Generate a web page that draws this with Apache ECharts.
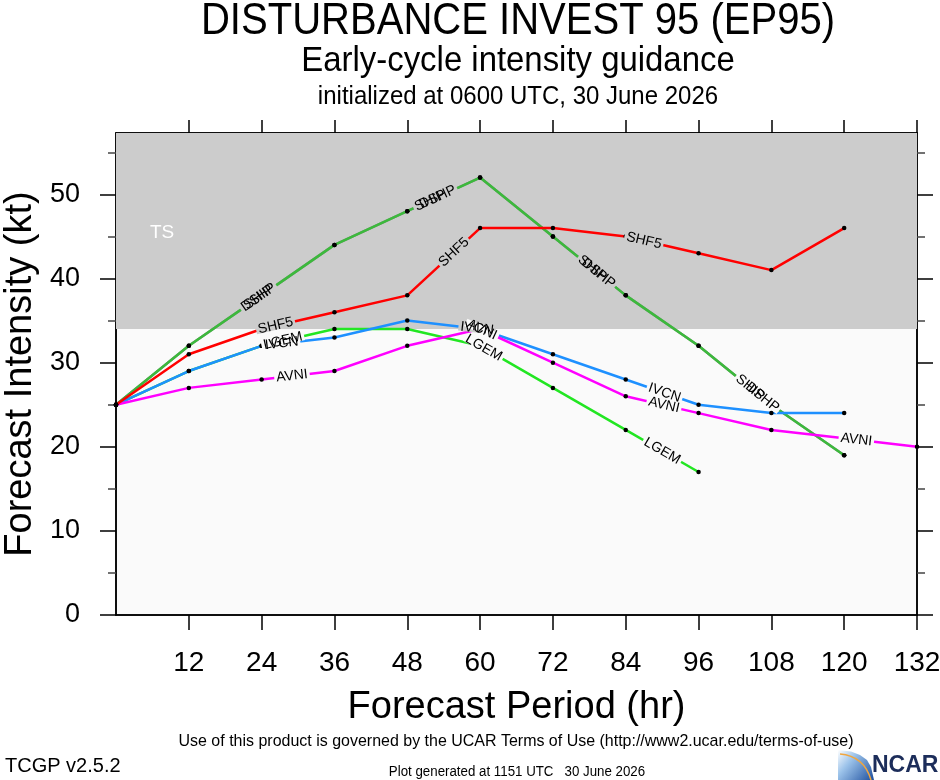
<!DOCTYPE html>
<html>
<head>
<meta charset="utf-8">
<script src="https://cdn.jsdelivr.net/npm/echarts@6/dist/echarts.min.js"></script>
<style>
html, body { margin: 0; padding: 0; background: #fff; }
#chart { width: 940px; height: 780px; }
</style>
</head>
<body>
<div id="chart"></div>
<script>
// forecast hours and axis ticks
const hours = [0, 12, 24, 36, 48, 60, 72, 84, 96, 108, 120, 132];
const hourTicks = [12, 24, 36, 48, 60, 72, 84, 96, 108, 120, 132];
const ktTicks = [0, 10, 20, 30, 40, 50];
const ktMinorTicks = [5, 15, 25, 35, 45, 55];
const ktTop = 57.3;
const tsThreshold = 34;

// intensity guidance (kt), null = no forecast
const shipKt = [25, 32, 38, 44, 48, 52, 45, 38, 32, 25, 19, null];
const dshpKt = [25, 32, 38, 44, 48, 52, 45, 38, 32, 25, 19, null];
const lgemKt = [25, 29, 32, 34, 34, 32, 27, 22, 17, null, null, null];
const ivcnKt = [25, 29, 32, 33, 35, 34, 31, 28, 25, 24, 24, null];
const avniKt = [25, 27, 28, 29, 32, 34, 30, 26, 24, 22, 21, 20];
const shf5Kt = [25, 31, 34, 36, 38, 46, 46, 45, 43, 41, 46, null];

const modelNames = ['SHIP', 'DSHP', 'LGEM', 'IVCN', 'AVNI', 'SHF5'];
const modelColors = ['#8a8a8a', '#3cb93c', '#22e622', '#1e90ff', '#ff00ff', '#ff0000'];
const modelKt = [shipKt, dshpKt, lgemKt, ivcnKt, avniKt, shf5Kt];
// where along each line the name is written (forecast hour)
const labelHours = [
    [23.5, 51.8, 78.5, 104.5],
    [23.5, 53, 79.5, 106.5],
    [27.5, 60.6, 90],
    [27.3, 59.5, 90.4],
    [29, 60.3, 90.3, 122],
    [26.3, 55.7, 87]
];

const FONT = "'Liberation Sans', Arial, Helvetica, sans-serif";
const LABEL_FONT = '14px ' + FONT;

let myChart = echarts.init(document.getElementById('chart'));

let series = modelNames.map(function (name, i) {
    let s = {
        name: name,
        type: 'line',
        data: hours.map(function (h, j) { return [h, modelKt[i][j]]; }),
        symbol: 'circle',
        symbolSize: 4.5,
        showSymbol: true,
        itemStyle: { color: '#000' },
        lineStyle: { color: modelColors[i], width: 2.5 },
        connectNulls: false,
        silent: true,
        z: 3
    };
    if (i == 0) {
        s.markArea = {
            silent: true,
            z: 1,
            itemStyle: { color: '#cccccc' },
            label: {
                show: true,
                position: [34, 90],
                color: '#fff',
                fontSize: 19,
                fontFamily: FONT
            },
            data: [[{ name: 'TS', yAxis: tsThreshold }, { yAxis: ktTop }]]
        };
    }
    return s;
});

function yAxisCfg(pos, ticks, len, showLine, labels) {
    return {
        type: 'value',
        position: pos,
        min: 0,
        max: ktTop,
        interval: 10,
        splitLine: { show: false },
        axisLine: { show: showLine, onZero: false, lineStyle: { color: '#000', width: 1.5 } },
        axisTick: { show: true, customValues: ticks, length: len, lineStyle: { color: len > 10 ? '#000' : '#444', width: 1.5 } },
        axisLabel: labels ? {
            show: true,
            customValues: ktTicks,
            fontSize: 27,
            color: '#000',
            margin: 36,
            fontFamily: FONT
        } : { show: false }
    };
}

let option = {
    animation: false,
    backgroundColor: '#fff',
    grid: {
        left: 116,
        right: 23,
        top: 133,
        bottom: 165,
        outerBoundsMode: 'none',
        containLabel: false,
        show: true,
        backgroundColor: '#fafafa',
        borderColor: '#000',
        borderWidth: 1.5
    },
    xAxis: [{
        type: 'value',
        position: 'bottom',
        min: 0,
        max: 132,
        interval: 12,
        splitLine: { show: false },
        axisLine: { show: true, onZero: false, lineStyle: { color: '#000', width: 1.5 } },
        axisTick: { show: true, customValues: hourTicks, length: 15, lineStyle: { color: '#000', width: 1.5 } },
        axisLabel: { show: true, customValues: hourTicks, fontSize: 28, color: '#000', margin: 34, fontFamily: FONT },
        name: 'Forecast Period (hr)',
        nameLocation: 'middle',
        nameGap: 74,
        nameTextStyle: { fontSize: 38, color: '#000', fontFamily: FONT }
    }, {
        type: 'value',
        position: 'top',
        min: 0,
        max: 132,
        interval: 12,
        splitLine: { show: false },
        axisLine: { show: true, onZero: false, lineStyle: { color: '#000', width: 1.5 } },
        axisTick: { show: true, customValues: hourTicks, length: 13, lineStyle: { color: '#000', width: 1.5 } },
        axisLabel: { show: false }
    }],
    yAxis: [
        Object.assign(yAxisCfg('left', ktTicks, 16, true, true), {
            name: 'Forecast Intensity (kt)',
            nameLocation: 'middle',
            nameGap: 64,
            nameTextStyle: { fontSize: 38, color: '#000', fontFamily: FONT }
        }),
        yAxisCfg('left', ktMinorTicks, 8, false, false),
        yAxisCfg('right', ktTicks, 16, true, false),
        yAxisCfg('right', ktMinorTicks, 8, false, false)
    ],
    series: series
};

myChart.setOption(option);

// line names written along the curves, with a gap cut in the line
function ktAt(vals, h) {
    for (let j = 0; j < hours.length - 1; j++) {
        if (h >= hours[j] && h <= hours[j + 1] && vals[j] != null && vals[j + 1] != null) {
            let f = (h - hours[j]) / (hours[j + 1] - hours[j]);
            return { v: vals[j] + f * (vals[j + 1] - vals[j]), j: j };
        }
    }
    return null;
}

let measure = document.createElement('canvas').getContext('2d');
measure.font = LABEL_FONT;

let gaps = [];
let texts = [];
modelNames.forEach(function (name, i) {
    labelHours[i].forEach(function (h) {
        let r = ktAt(modelKt[i], h);
        if (!r) return;
        let p = myChart.convertToPixel({ xAxisIndex: 0, yAxisIndex: 0 }, [h, r.v]);
        let a = myChart.convertToPixel({ xAxisIndex: 0, yAxisIndex: 0 }, [hours[r.j], modelKt[i][r.j]]);
        let b = myChart.convertToPixel({ xAxisIndex: 0, yAxisIndex: 0 }, [hours[r.j + 1], modelKt[i][r.j + 1]]);
        let rot = -Math.atan2(b[1] - a[1], b[0] - a[0]);
        let w = measure.measureText(name).width + 4;
        gaps.push({
            type: 'rect',
            x: p[0], y: p[1], rotation: rot,
            shape: { x: -w / 2, y: -4, width: w, height: 8 },
            style: { fill: r.v >= tsThreshold ? '#cccccc' : '#fafafa' },
            silent: true,
            z: 10
        });
        texts.push({
            type: 'text',
            x: p[0], y: p[1], rotation: rot,
            style: {
                text: name,
                fill: '#000',
                font: LABEL_FONT,
                align: 'center', verticalAlign: 'middle',
                textAlign: 'center', textVerticalAlign: 'middle'
            },
            silent: true,
            z: 11
        });
    });
});

function centered(text, x, y, size, sx) {
    return {
        type: 'text',
        x: x, y: y,
        scaleX: sx || 1,
        style: {
            text: text,
            fill: '#000',
            font: size + 'px ' + FONT,
            align: 'center', verticalAlign: 'middle',
            textAlign: 'center', textVerticalAlign: 'middle'
        },
        silent: true,
        z: 20
    };
}

let notes = [
    centered('DISTURBANCE INVEST 95 (EP95)', 518, 22, 44, 0.91),
    centered('Early-cycle intensity guidance', 518, 61, 35, 0.94),
    centered('initialized at 0600 UTC, 30 June 2026', 518, 97, 25, 0.96),
    centered('Use of this product is governed by the UCAR Terms of Use (http://www2.ucar.edu/terms-of-use)', 516, 741, 17, 0.94),
    centered('Plot generated at 1151 UTC   30 June 2026', 517, 772, 14, 0.95),
    {
        type: 'text', x: 5, y: 766,
        style: { text: 'TCGP v2.5.2', fill: '#000', font: '20px ' + FONT, align: 'left', verticalAlign: 'middle', textAlign: 'left', textVerticalAlign: 'middle' },
        silent: true, z: 20
    },
    // NCAR logo
    {
        type: 'polygon',
        shape: { points: [[838, 750], [851, 751.5], [860, 755], [867, 760], [871, 767], [874, 780], [838, 780]] },
        style: {
            fill: {
                type: 'linear', x: 0, y: 0, x2: 1, y2: 1,
                colorStops: [
                    { offset: 0, color: '#ffffff' },
                    { offset: 0.35, color: '#9cc3ea' },
                    { offset: 1, color: '#1d4f9e' }
                ]
            }
        },
        silent: true, z: 20
    },
    {
        type: 'bezierCurve',
        shape: { x1: 840, y1: 754, x2: 871, y2: 780, cpx1: 864, cpy1: 756 },
        style: { fill: null, stroke: '#f0a640', lineWidth: 1.5 },
        silent: true, z: 21
    },
    {
        type: 'text', x: 872, y: 766,
        style: { text: 'NCAR', fill: '#1c2d5a', font: 'bold 23px ' + FONT, align: 'left', verticalAlign: 'middle', textAlign: 'left', textVerticalAlign: 'middle' },
        silent: true, z: 21
    }
];

myChart.setOption({ graphic: gaps.concat(texts).concat(notes) });

window.onresize = function () {
    myChart.resize();
};
</script>
</body>
</html>
